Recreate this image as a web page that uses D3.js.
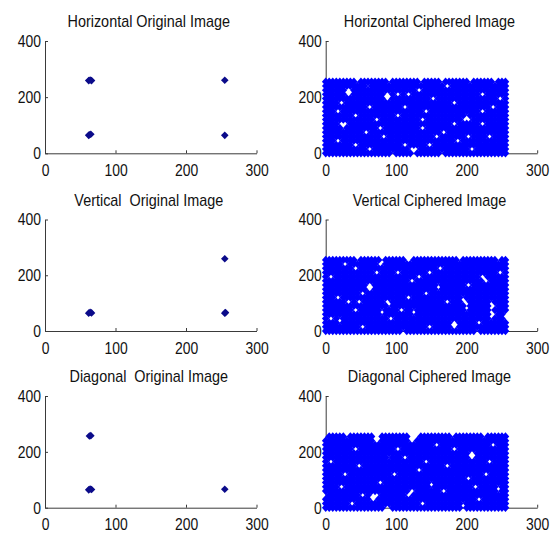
<!DOCTYPE html>
<html><head><meta charset="utf-8">
<script src="https://cdn.jsdelivr.net/npm/d3@7"></script>
<style>body{margin:0;background:#fff}svg{display:block}</style>
</head><body>
<svg id="c" width="557" height="533"></svg>
<script>
// ---- data ----
const xTicks = [0, 100, 200, 300];
const yTicks = [0, 200, 400];
const titles = ["Horizontal Original Image", "Horizontal Ciphered Image",
                "Vertical  Original Image", "Vertical Ciphered Image",
                "Diagonal  Original Image", "Diagonal Ciphered Image"];

// original image: adjacent-pixel pairs (x = pixel, y = neighbour)
const hOrigX = [62, 66, 64, 255, 62, 65, 63, 255];
const hOrigY = [259, 259, 261, 260, 64, 68, 66, 64];
const vOrigX = [62, 66, 64, 255, 255, 256];
const vOrigY = [64, 65, 67, 259, 64, 66];
const dOrigX = [63, 65, 62, 66, 64, 255];
const dOrigY = [257, 258, 64, 65, 67, 66];

// ciphered image: occupancy of pixel-pair bins ('#' = pairs present, '.' = empty)
const cipherCols = d3.range(0, 256, 5);     // x bins 0..255
const cipherRows = d3.range(255, -1, -15);  // y bins 255..0
const hCipher = [
 "#########. ########.# #######.## ###.###### #.######.# ##",
 "########## ##.####### ########## ####..#### ########## ##",
 "######..## ########## ######..## ########## ########## ##",
 "######..## #######..# ..#..##### ########## ####..#### ##",
 "########## #######..# ########## ..######## #########. .#",
 "####..#### ########## ########## ######..## ########## ##",
 "########## ##..###### ##..###### ########## #######..# ##",
 "###..##### ########## ########.. ########## ####..#### ##",
 "########.. ########## ..######## ########## .######### ##",
 "########## ####..#### #######..# #########. ..######## ##",
 "####...### ########## ########## ######..## ####..#### ##",
 "#####.#### #####..### #######..# ########## ########## ##",
 "########## #..####### ########## ###..##### ########## ##",
 "########## ######..## ########## #..####### ..####..## ##",
 "###..##### ########## ########## #######..# ########## ##",
 "########.. ########## ##..#####. .######### ########## ##",
 "########## ##..###### ####...### ########## #..####### ##",
 "########## #########. #####.#### ###.###### ########## ##"
];
const vCipher = [
 "#########. ######.### ###..##### ########.# #########. ##",
 "#####..### #####..### ########## ########## ########## ##",
 "########.. ########## ########## ##..###### ########## ##",
 "########## ####..#### ..#######. .######### #########. .#",
 "#..####### ########## ######..## ########## ####..#### ##",
 "########## ########## ####..#### ########## #####..### ##",
 "########## ##..###### ########## ##.####### ..######## ##",
 "########## ##..###### ########## ##.####### ########## ##",
 "########## ..######## ########.. ########## ########## ##",
 "###..##### ########## ###..##### #########. ########## ##",
 "######..#. .######..# ########## ####..###. .######.## ##",
 "########## ########.# ########## ########## .######..# ##",
 "########.. ######.### #..##.#### ########## .######.## ##",
 "########## ######.### #####.#### ########## #######..# #.",
 "#..#.##### ########.. ########## ########## #######.## #.",
 "####.##### ########## ########## ######..## ###..##### ##",
 "########## ..######## #########. .#####..## ########## ##",
 "########## ########## ##.####### ########## ###.###### ##"
];
const dCipher = [
 ".#####.### ####..#### ####...### ######.### #####.#### ##",
 "########## ####..#### ####..#### ########## ########## ##",
 "########## ########## ########## #..####### #######..# ##",
 "########.. ########## ..######## ######..## ########## ##",
 "########## ########## ########## ########## #..####### ##",
 "########## ########.# ##..###### ########## #..####### ##",
 "#..####### ########## ########.. ########## ######..## ##",
 "#########. .######### ########## ####..#### ########## ##",
 "########## ########## ######..## ########## ########## ##",
 "#####..### #########. .######### ########## #####..### ##",
 "########## ########## ########## ########## ..######## ##",
 "########## #####..### ########## .######### ########## ##",
 "####..#### ########## ########## .######### ##..#####. ##",
 "########## ########## ####..#### ###..##### #########. ##",
 ".######### ..#...#### ###..##### ########## ########## ##",
 "########## ###..##### ########## ########## ###..##### ##",
 "#######..# ########## #######..# #########. ########## ##",
 "########## #######..# ########## #########. ########## ##"
];

// ---- layout ----
const svg = d3.select("#c");
const W = 211.5;
const colLeft = [45, 325.7];
const rowBox = [[41, 153.3], [219.5, 331], [396, 507.7]];
const FONT = "'Liberation Sans', Arial, Helvetica, sans-serif";
const origColor = "#0b0b8a", cipherColor = "#0000ff";
const diamond = (w, h) => `M0,${-h}L${w},0L0,${h}L${-w},0Z`;

function cipherPoints(rows) {
  const pts = [];
  rows.forEach((s, ri) => {
    s.replace(/ /g, "").split("").forEach((ch, ci) => {
      if (ch === "#" && ci < cipherCols.length) pts.push([cipherCols[ci], cipherRows[ri]]);
    });
  });
  return pts;
}

const panels = [
  {r: 0, c: 0, pts: d3.zip(hOrigX, hOrigY), cipher: false},
  {r: 0, c: 1, pts: cipherPoints(hCipher), cipher: true},
  {r: 1, c: 0, pts: d3.zip(vOrigX, vOrigY), cipher: false},
  {r: 1, c: 1, pts: cipherPoints(vCipher), cipher: true},
  {r: 2, c: 0, pts: d3.zip(dOrigX, dOrigY), cipher: false},
  {r: 2, c: 1, pts: cipherPoints(dCipher), cipher: true}
];

panels.forEach((p, i) => {
  const left = colLeft[p.c], top = rowBox[p.r][0], bottom = rowBox[p.r][1];
  const x = d3.scaleLinear().domain([0, 300]).range([left, left + W]);
  const y = d3.scaleLinear().domain([0, 400]).range([bottom, top]);
  const g = svg.append("g");

  const ax = g.append("g").attr("transform", `translate(0,${bottom})`)
    .call(d3.axisBottom(x).tickValues(xTicks).tickSizeInner(-3).tickSizeOuter(0).tickPadding(10.5));
  const ay = g.append("g").attr("transform", `translate(${left},0)`)
    .call(d3.axisLeft(y).tickValues(yTicks).tickSizeInner(-3).tickSizeOuter(0).tickPadding(4.9));
  [ax, ay].forEach(a => {
    a.attr("color", "#3a3a3a").attr("font-family", FONT).attr("font-size", 17);
    a.selectAll("text").attr("fill", "#111").attr("transform", "scale(0.82,1)");
  });

  g.append("text")
    .attr("transform", `translate(${left + W / 2 - 2},${top - 14}) scale(0.9,1)`)
    .attr("text-anchor", "middle")
    .attr("font-family", FONT).attr("font-size", 16).attr("fill", "#111")
    .style("white-space", "pre")
    .text(titles[i]);

  g.append("g").selectAll("path").data(p.pts).join("path")
    .attr("transform", d => `translate(${x(d[0])},${y(d[1])})`)
    .attr("d", p.cipher ? diamond(3.8, 4.2) : diamond(3.8, 3.8))
    .attr("fill", p.cipher ? cipherColor : origColor);
});
</script>
</body></html>
